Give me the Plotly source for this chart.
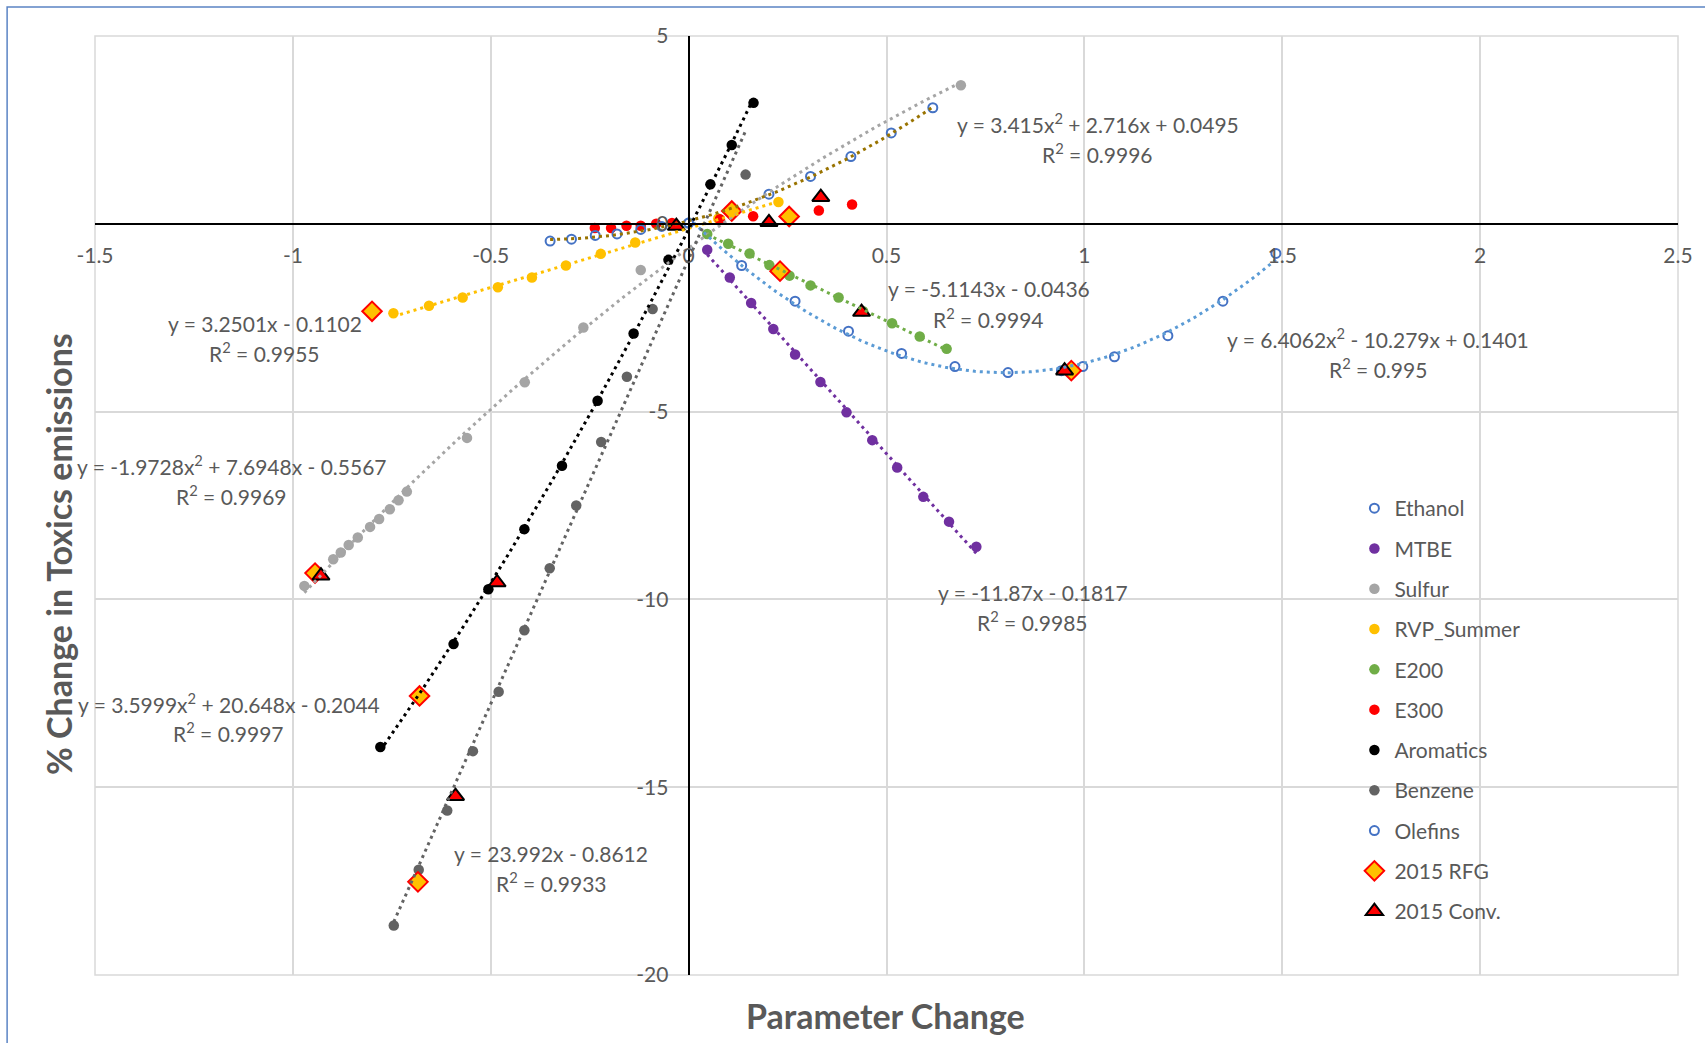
import numpy as np
import plotly.graph_objects as go

# ---------------- data ----------------
ethanol_x = [0.0, 0.134, 0.269, 0.404, 0.538, 0.673, 0.807, 0.942, 0.996, 1.076, 1.211, 1.35, 1.484]
ethanol_y = [0.02, -1.11, -2.06, -2.86, -3.45, -3.80, -3.96, -3.91, -3.80, -3.54, -2.98, -2.06, -0.79]

mtbe_x = [0.047, 0.104, 0.158, 0.214, 0.269, 0.333, 0.399, 0.464, 0.527, 0.593, 0.658, 0.727]
mtbe_y = [-0.69, -1.43, -2.11, -2.80, -3.48, -4.21, -5.02, -5.76, -6.49, -7.27, -7.93, -8.60]

sulfur_x = [-0.971, -0.935, -0.898, -0.879, -0.859, -0.836, -0.805, -0.782, -0.755, -0.733, -0.712,
            -0.56, -0.414, -0.266, -0.121, 0.688]
sulfur_y = [-9.64, -9.30, -8.93, -8.75, -8.55, -8.35, -8.07, -7.86, -7.60, -7.36, -7.13,
            -5.70, -4.22, -2.76, -1.23, 3.69]

rvp_x = [-0.746, -0.656, -0.571, -0.482, -0.396, -0.31, -0.222, -0.135, 0.075, 0.227]
rvp_y = [-2.38, -2.18, -1.96, -1.69, -1.43, -1.11, -0.80, -0.50, 0.14, 0.58]

e200_x = [0.047, 0.1, 0.154, 0.204, 0.255, 0.308, 0.379, 0.441, 0.514, 0.584, 0.652]
e200_y = [-0.27, -0.53, -0.79, -1.10, -1.38, -1.64, -1.96, -2.33, -2.65, -3.00, -3.33]

e300_x = [-0.237, -0.196, -0.157, -0.121, -0.082, -0.042, 0.079, 0.163, 0.329, 0.413]
e300_y = [-0.11, -0.11, -0.05, -0.05, 0.0, 0.02, 0.12, 0.20, 0.355, 0.515]

arom_x = [-0.779, -0.685, -0.594, -0.506, -0.415, -0.32, -0.23, -0.139, -0.051, 0.055, 0.109, 0.164]
arom_y = [-13.93, -12.60, -11.19, -9.73, -8.13, -6.44, -4.71, -2.92, -0.96, 1.05, 2.10, 3.22]

benz_x = [-0.745, -0.682, -0.61, -0.545, -0.48, -0.415, -0.351, -0.284, -0.221, -0.156, -0.091, 0.144]
benz_y = [-18.68, -17.20, -15.62, -14.04, -12.46, -10.82, -9.17, -7.50, -5.81, -4.07, -2.27, 1.31]

olef_x = [-0.35, -0.296, -0.236, -0.181, -0.121, -0.068, 0.0, 0.109, 0.203, 0.308, 0.41, 0.512, 0.617]
olef_y = [-0.46, -0.41, -0.31, -0.27, -0.15, -0.07, 0.02, 0.34, 0.79, 1.26, 1.79, 2.42, 3.09]

rfg_x = [-0.944, -0.80, -0.68, -0.684, 0.109, 0.231, 0.254, 0.967]
rfg_y = [-9.30, -2.33, -12.57, -17.52, 0.34, -1.26, 0.195, -3.91]

conv_x = [-0.929, -0.484, -0.589, -0.031, 0.203, 0.334, 0.437, 0.950]
conv_y = [-9.37, -9.55, -15.24, -0.06, 0.04, 0.71, -2.35, -3.91]

x_ticks = [-1.5, -1, -0.5, 0, 0.5, 1, 1.5, 2, 2.5]
x_tick_labels = ["-1.5", "-1", "-0.5", "0", "0.5", "1", "1.5", "2", "2.5"]
y_ticks = [5, 0, -5, -10, -15, -20]
y_tick_labels = ["5", "0", "-5", "-10", "-15", "-20"]

trend_labels = [
    ("y = 3.415x<sup>2</sup> + 2.716x + 0.0495", "R<sup>2</sup> = 0.9996", 1099, 123, 153),
    ("y = 3.2501x - 0.1102", "R<sup>2</sup> = 0.9955", 265, 323, 352),
    ("y = -5.1143x - 0.0436", "R<sup>2</sup> = 0.9994", 990, 288, 318),
    ("y = 6.4062x<sup>2</sup> - 10.279x + 0.1401", "R<sup>2</sup> = 0.995", 1380, 338, 368),
    ("y = -1.9728x<sup>2</sup> + 7.6948x - 0.5567", "R<sup>2</sup> = 0.9969", 232, 465, 495),
    ("y = 3.5999x<sup>2</sup> + 20.648x - 0.2044", "R<sup>2</sup> = 0.9997", 229, 703, 732),
    ("y = 23.992x - 0.8612", "R<sup>2</sup> = 0.9933", 552, 853, 882),
    ("y = -11.87x - 0.1817", "R<sup>2</sup> = 0.9985", 1034, 592, 621),
]

# ---------------- layout geometry ----------------
W, H = 1705, 1043
L, R, T, B = 95, 25, 36, 68
PW, PH = W - L - R, H - T - B


def px2paper_x(px):
    return (px - L) / PW


def px2paper_y(py):
    return (H - B - py) / PH


TXT = "#595959"
FONT = "Lato"

fig = go.Figure()

series = [
    ("Ethanol", ethanol_x, ethanol_y, dict(symbol="circle-open", size=9, color="#4472C4", line=dict(width=2, color="#4472C4"))),
    ("MTBE", mtbe_x, mtbe_y, dict(symbol="circle", size=10.5, color="#7030A0")),
    ("Sulfur", sulfur_x, sulfur_y, dict(symbol="circle", size=10.5, color="#A5A5A5")),
    ("RVP_Summer", rvp_x, rvp_y, dict(symbol="circle", size=10.5, color="#FFC000")),
    ("E200", e200_x, e200_y, dict(symbol="circle", size=10.5, color="#70AD47")),
    ("E300", e300_x, e300_y, dict(symbol="circle", size=10.5, color="#FF0000")),
    ("Aromatics", arom_x, arom_y, dict(symbol="circle", size=10.5, color="#000000")),
    ("Benzene", benz_x, benz_y, dict(symbol="circle", size=10.5, color="#636363")),
    ("Olefins", olef_x, olef_y, dict(symbol="circle-open", size=9, color="#4472C4", line=dict(width=2, color="#4472C4"))),
    ("2015 RFG", rfg_x, rfg_y, dict(symbol="diamond", size=15, color="#FFC000", line=dict(width=2, color="#FF0000"))),
    ("2015 Conv.", conv_x, conv_y, dict(symbol="triangle-up", size=15, color="#FF0000", line=dict(width=2, color="#000000"))),
]

for name, xs, ys, mk in series:
    fig.add_trace(go.Scatter(x=xs, y=ys, mode="markers", name=name, marker=mk,
                             legendgroup=name, cliponaxis=False))

# trendlines: least-squares fits of the read data (as Excel does)
trends = [
    (ethanol_x, ethanol_y, 2, "#5B9BD5"),
    (mtbe_x, mtbe_y, 1, "#7030A0"),
    (sulfur_x, sulfur_y, 2, "#A5A5A5"),
    (rvp_x, rvp_y, 1, "#FFC000"),
    (e200_x, e200_y, 1, "#70AD47"),
    (arom_x, arom_y, 2, "#000000"),
    (benz_x, benz_y, 1, "#636363"),
    (olef_x, olef_y, 2, "#997300"),
]
for xs, ys, deg, col in trends:
    coef = np.polyfit(xs, ys, deg)
    xx = np.linspace(min(xs), max(xs), 120)
    fig.add_trace(go.Scatter(x=xx, y=np.polyval(coef, xx), mode="lines", showlegend=False,
                             hoverinfo="skip",
                             line=dict(color=col, width=3, dash="3px,4px")))

annotations = []
for eq, r2, cx, y1, y2 in trend_labels:
    for text, cy in ((eq, y1), (r2, y2)):
        annotations.append(dict(x=px2paper_x(cx), y=px2paper_y(cy), xref="paper", yref="paper",
                                text=text, showarrow=False, xanchor="center", yanchor="middle",
                                font=dict(family=FONT, size=21, color=TXT)))

annotations.append(dict(x=px2paper_x(886), y=px2paper_y(1015), xref="paper", yref="paper",
                        text="<b>Parameter Change</b>", showarrow=False,
                        xanchor="center", yanchor="middle",
                        font=dict(family=FONT, size=34, color=TXT)))
annotations.append(dict(x=px2paper_x(58), y=px2paper_y(554), xref="paper", yref="paper",
                        text="<b>% Change in Toxics emissions</b>", showarrow=False, textangle=-90,
                        xanchor="center", yanchor="middle",
                        font=dict(family=FONT, size=34, color=TXT)))

shapes = [
    # plot-area frame
    dict(type="rect", xref="paper", yref="paper", x0=0, x1=1, y0=0, y1=1,
         line=dict(color="#D9D9D9", width=1.5), layer="below"),
    # chart-area border (only top and left edges are visible)
    dict(type="rect", xref="paper", yref="paper",
         x0=px2paper_x(7), x1=px2paper_x(W + 20), y0=px2paper_y(H + 20), y1=px2paper_y(7),
         line=dict(color="#5B84C4", width=1.5), layer="below"),
]

fig.update_layout(
    width=W, height=H,
    margin=dict(l=L, r=R, t=T, b=B),
    paper_bgcolor="white", plot_bgcolor="white",
    font=dict(family=FONT, color=TXT),
    xaxis=dict(range=[-1.5, 2.5], tickvals=x_ticks, ticktext=x_tick_labels,
               showgrid=True, gridcolor="#D9D9D9", gridwidth=1.5, zeroline=False,
               showline=True, linecolor="#000000", linewidth=2,
               anchor="free", position=0.8, side="bottom",
               tickfont=dict(family=FONT, size=21, color=TXT), ticks="",
               ticklabelstandoff=13),
    yaxis=dict(range=[-20, 5], tickvals=y_ticks, ticktext=y_tick_labels,
               showgrid=True, gridcolor="#D9D9D9", gridwidth=1.5, zeroline=False,
               showline=True, linecolor="#000000", linewidth=2,
               anchor="free", position=0.375, side="left",
               tickfont=dict(family=FONT, size=21, color=TXT), ticks="",
               ticklabelstandoff=15),
    legend=dict(x=px2paper_x(1356), y=px2paper_y(488), xanchor="left", yanchor="top",
                font=dict(family=FONT, size=21, color=TXT), bgcolor="rgba(0,0,0,0)",
                tracegroupgap=10, itemwidth=30),
    annotations=annotations,
    shapes=shapes,
)

fig.write_html("out.html")
